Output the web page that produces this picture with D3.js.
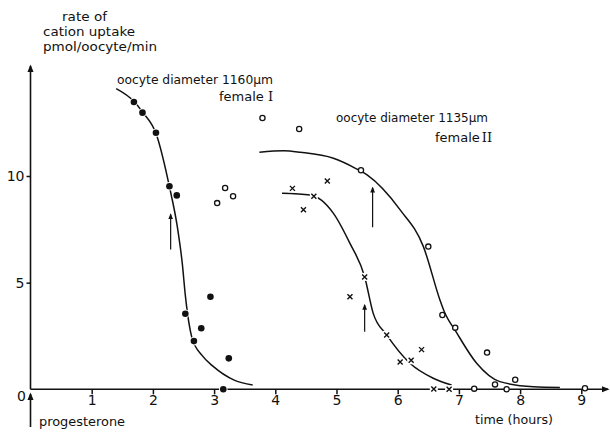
<!DOCTYPE html>
<meta charset="utf-8">
<style>
body { margin: 0; background: #fff; }
svg { display: block; }
text { font-family: "DejaVu Sans", sans-serif; fill: #111; }
.curve { fill: none; stroke: #111; stroke-width: 1.5px; }
.axisline { stroke: #111; stroke-width: 1.6px; fill: none; }
.tick line { stroke: #111; stroke-width: 1.5px; }
.roman { font-family: "DejaVu Serif", serif; }
</style>
<body>
<svg width="610" height="433"></svg>
<script src="https://d3js.org/d3.v7.min.js"></script>
<script>

// female I, filled dots (hours, pmol/oocyte/min)
var dotsX = [1.69, 1.83, 2.05, 2.27, 2.39, 2.53, 2.67, 2.79, 2.94, 3.15, 3.24];
var dotsY = [13.47, 12.97, 12.03, 9.52, 9.09, 3.54, 2.26, 2.86, 4.34, 0, 1.45];

// female II, open circles
var circX = [3.05, 3.18, 3.31, 3.79, 4.39, 5.40, 6.50, 6.73, 6.94, 7.25, 7.46, 7.59, 7.78, 7.92, 9.06];
var circY = [8.73, 9.44, 9.05, 12.72, 12.2, 10.27, 6.69, 3.48, 2.89, 0.03, 1.72, 0.23, 0, 0.45, 0.05];

// crosses
var crossX = [4.28, 4.46, 4.63, 4.85, 5.22, 5.46, 5.82, 6.04, 6.22, 6.39, 6.59, 6.84];
var crossY = [9.42, 8.42, 9.05, 9.77, 4.34, 5.27, 2.55, 1.28, 1.36, 1.86, 0.01, 0];

// fitted curves
var curveIX = [1.40, 1.69, 1.83, 2.05, 2.27, 2.40, 2.48, 2.53, 2.64, 2.80, 2.99, 3.32, 3.63];
var curveIY = [14.1, 13.5, 13.0, 12.0, 9.5, 7.6, 5.9, 4.4, 2.4, 1.6, 1.06, 0.44, 0.2];

var curveOX = [3.74, 4.14, 4.41, 4.95, 5.31, 5.50, 6.04, 6.42, 6.69, 6.75, 6.97, 7.29, 7.67, 8.22, 8.65];
var curveOY = [11.11, 11.18, 11.11, 10.83, 10.36, 10.05, 8.41, 6.69, 4.19, 3.72, 2.62, 1.22, 0.36, 0.12, 0.09];

var curveXX = [4.11, 4.57, 4.95, 5.22, 5.46, 5.60, 5.82, 6.20, 6.58, 6.88];
var curveXY = [9.19, 9.11, 8.25, 6.84, 5.28, 3.56, 2.55, 1.22, 0.52, 0.2];

// arrows marking half-time: x, y from, y to
var arrowX = [2.29, 5.59, 5.46];
var arrowY0 = [6.55, 7.6, 2.7];
var arrowY1 = [8.2, 9.45, 3.95];

var xTicks = [1, 2, 3, 4, 5, 6, 7, 8, 9];
var yTicks = [5, 10];

var svg = d3.select("svg");

var x = d3.scaleLinear().domain([0, 9]).range([30.5, 581.3]);
var y = d3.scaleLinear().domain([0, 10]).range([389.3, 176]);

function pairs(xs, ys) { return xs.map(function(v, i) { return [v, ys[i]]; }); }

function label(px, py, str, len, size) {
  return svg.append("text")
      .attr("x", px).attr("y", py)
      .attr("textLength", len).attr("lengthAdjust", "spacingAndGlyphs")
      .style("font-size", (size || 13) + "px")
      .text(str);
}

// arrow head marker
svg.append("defs").append("marker")
    .attr("id", "head")
    .attr("viewBox", "0 0 10 10")
    .attr("refX", 8).attr("refY", 5)
    .attr("markerWidth", 5).attr("markerHeight", 6)
    .attr("orient", "auto")
  .append("path")
    .attr("d", "M0,1L10,5L0,9Z")
    .attr("fill", "#111");

// axes
svg.append("line").attr("class", "axisline")
    .attr("x1", x(0)).attr("y1", y(0)).attr("x2", x(0)).attr("y2", 66)
    .attr("marker-end", "url(#head)");
svg.append("line").attr("class", "axisline")
    .attr("x1", x(0)).attr("y1", y(0)).attr("x2", 608).attr("y2", y(0))
    .attr("marker-end", "url(#head)");

var xAxis = svg.append("g")
    .attr("transform", "translate(0," + y(0) + ")")
    .call(d3.axisBottom(x).tickValues(xTicks).tickSize(5).tickPadding(1).tickFormat(d3.format("d")));
xAxis.select(".domain").remove();
xAxis.selectAll("text").style("font-size", "14px").attr("fill", "#111");

var yAxis = svg.append("g")
    .attr("transform", "translate(" + x(0) + ",0)")
    .call(d3.axisLeft(y).tickValues(yTicks).tickSize(4).tickPadding(2).tickFormat(d3.format("d")));
yAxis.select(".domain").remove();
yAxis.selectAll("text").style("font-size", "14px").attr("fill", "#111");

svg.append("text").attr("x", 17).attr("y", 401).style("font-size", "14px").text("0");

// progesterone arrow
svg.append("line").attr("class", "axisline")
    .attr("x1", x(0)).attr("y1", 427).attr("x2", x(0)).attr("y2", 394)
    .attr("marker-end", "url(#head)");
label(39, 426, "progesterone", 86);
label(475, 424, "time (hours)", 78);

// titles
label(62, 21, "rate of", 45);
label(43, 36, "cation uptake", 92);
label(43, 51, "pmol/oocyte/min", 114);

label(117, 84, "oocyte diameter 1160\u00b5m", 156);
label(336, 122, "oocyte diameter 1135\u00b5m", 152);

var f1 = svg.append("text").attr("x", 219).attr("y", 101).style("font-size", "13px");
f1.append("tspan").text("female ");
f1.append("tspan").attr("class", "roman").text("I");
var f2 = svg.append("text").attr("x", 435).attr("y", 142).style("font-size", "13px");
f2.append("tspan").text("female");
f2.append("tspan").attr("class", "roman").attr("dx", 2).text("II");

// curves
var line = d3.line()
    .x(function(d) { return x(d[0]); })
    .y(function(d) { return y(d[1]); })
    .curve(d3.curveMonotoneX);

svg.append("path").attr("class", "curve").attr("d", line(pairs(curveIX, curveIY)));
svg.append("path").attr("class", "curve").attr("d", line(pairs(curveOX, curveOY)));
svg.append("path").attr("class", "curve").attr("d", line(pairs(curveXX, curveXY)));

// arrows
arrowX.forEach(function(v, i) {
  svg.append("line")
      .attr("x1", x(v)).attr("y1", y(arrowY0[i]))
      .attr("x2", x(v)).attr("y2", y(arrowY1[i]))
      .attr("stroke", "#111").attr("stroke-width", 1.2)
      .attr("marker-end", "url(#head)");
});

// points
svg.selectAll(".dot").data(pairs(dotsX, dotsY)).enter().append("circle")
    .attr("class", "dot")
    .attr("cx", function(d) { return x(d[0]); })
    .attr("cy", function(d) { return y(d[1]); })
    .attr("r", 3.3)
    .attr("fill", "#111").attr("stroke", "#fff").attr("stroke-width", 2)
    .attr("paint-order", "stroke");

svg.selectAll(".circ").data(pairs(circX, circY)).enter().append("circle")
    .attr("class", "circ")
    .attr("cx", function(d) { return x(d[0]); })
    .attr("cy", function(d) { return y(d[1]); })
    .attr("r", 2.6)
    .attr("fill", "#fff").attr("stroke", "#111").attr("stroke-width", 1.3);

var cross = svg.selectAll(".cross").data(pairs(crossX, crossY)).enter().append("g")
    .attr("transform", function(d) { return "translate(" + x(d[0]) + "," + y(d[1]) + ")"; });
cross.append("rect").attr("x", -4).attr("y", -4).attr("width", 8).attr("height", 8).attr("fill", "#fff");
cross.append("path").attr("d", "M-2.5,-2.5L2.5,2.5M-2.5,2.5L2.5,-2.5")
    .attr("stroke", "#111").attr("stroke-width", 1.4);

</script>
